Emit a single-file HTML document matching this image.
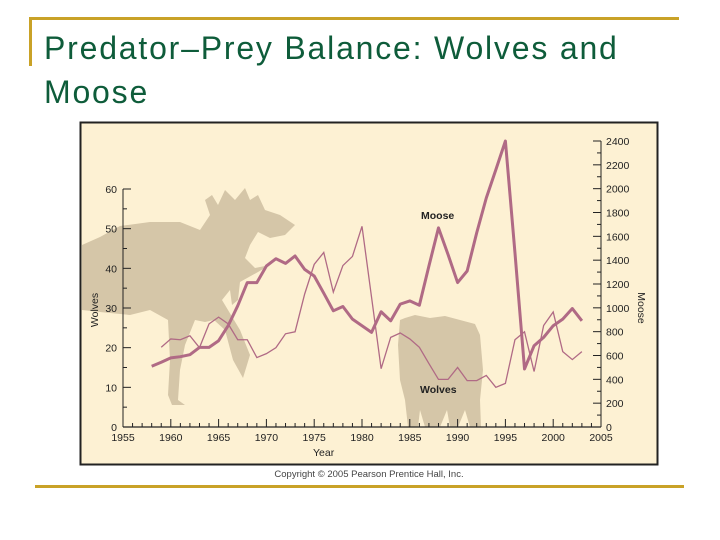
<!DOCTYPE html>
<html><head><meta charset="utf-8"><style>
body{margin:0;background:#fff;width:720px;height:540px;overflow:hidden;font-family:"Liberation Sans",sans-serif}
svg{position:absolute;left:0;top:0}
</style></head><body>
<svg width="720" height="540">
<rect x="29" y="17" width="650" height="3" fill="#c9a227"/>
<rect x="29" y="17" width="3" height="49" fill="#c9a227"/>
<rect x="35" y="485" width="649" height="3" fill="#c9a227"/>
<text x="44" y="59" font-size="32" letter-spacing="1.8" fill="#0e5c3a">Predator–Prey Balance: Wolves and</text>
<text x="44" y="103" font-size="32" letter-spacing="1.8" fill="#0e5c3a">Moose</text>
<rect x="80.5" y="122.5" width="577" height="342" fill="#fdf1d3" stroke="#222" stroke-width="2"/>
<g fill="#d5c6a8">
<path d="M82,245 L100,237 L120,226 L150,222 L180,222 L200,230 L210,215 L205,200 L212,195 L218,205 L225,190 L235,200 L245,188 L250,200 L258,195 L265,210 L280,215 L295,225 L285,235 L270,238 L258,232 L250,245 L245,258 L255,268 L270,265 L258,272 L240,282 L238,300 L232,305 L230,290 L222,300 L240,330 L250,355 L243,378 L233,360 L225,330 L214,320 L205,322 L195,320 L185,345 L180,370 L178,400 L185,405 L172,405 L168,395 L170,360 L168,320 L150,310 L130,315 L100,312 L82,310 Z"/>
</g>
<path d="M400,320 L405,318 L415,315 L430,318 L445,316 L460,320 L475,324 L480,335 L483,370 L480,400 L481,427 L470,427 L465,410 L458,427 L450,427 L447,410 L440,427 L425,427 L420,410 L418,427 L408,427 L405,400 L400,380 L398,345 Z" fill="#d5c6a8"/>
<g id="axes" font-size="10.5" fill="#222"></g>
<g id="series"></g>
<text x="421" y="219" font-size="10.5" font-weight="bold" fill="#222">Moose</text>
<text x="420" y="393" font-size="10.5" font-weight="bold" fill="#222">Wolves</text>
<text x="313" y="456" font-size="10.5" fill="#222">Year</text>
<text transform="translate(98,310) rotate(-90)" text-anchor="middle" font-size="10.5" fill="#222">Wolves</text>
<text transform="translate(638,308) rotate(90)" text-anchor="middle" font-size="10.5" fill="#222">Moose</text>
<text x="369" y="477" text-anchor="middle" font-size="9.5" fill="#444">Copyright © 2005 Pearson Prentice Hall, Inc.</text>
</svg>
<script>
const years=[1958,1959,1960,1961,1962,1963,1964,1965,1966,1967,1968,1969,1970,1971,1972,1973,1974,1975,1976,1977,1978,1979,1980,1981,1982,1983,1984,1985,1986,1987,1988,1989,1990,1991,1992,1993,1994,1995,1996,1997,1998,1999,2000,2001,2002,2003];
const moose=[510,543,580,590,607,668,668,724,850,1017,1212,1212,1351,1412,1373,1435,1323,1267,1123,975,1011,905,850,794,967,891,1031,1058,1022,1351,1671,1448,1212,1309,1630,1922,2159,2400,1462,487,682,752,850,905,994,891];
const wolfYears=[1959,1960,1961,1962,1963,1964,1965,1966,1967,1968,1969,1970,1971,1972,1973,1974,1975,1976,1977,1978,1979,1980,1981,1982,1983,1984,1985,1986,1987,1988,1989,1990,1991,1992,1993,1994,1995,1996,1997,1998,1999,2000,2001,2002,2003];
const wolves=[20.1,22.2,22,23,20,26,27.7,26,22,22,17.5,18.5,20,23.5,24,33.5,41,44,34,40.7,43,50.6,32.7,14.7,22.6,23.7,22.2,20.1,16,12,12,15,11.7,11.7,13,10,11,22,24,14,25.6,29,19,17,19];
const xTicks=[1955,1960,1965,1970,1975,1980,1985,1990,1995,2000,2005];
const wolfTicks=[0,10,20,30,40,50,60];
const mooseTicks=[0,200,400,600,800,1000,1200,1400,1600,1800,2000,2200,2400];
const X=y=>123+(y-1955)*(601-123)/50;
const YW=v=>427-v*(427-189)/60;
const YM=v=>427-v*(427-141)/2400;
const NS='http://www.w3.org/2000/svg';
const ax=document.getElementById('axes'),se=document.getElementById('series');
function mk(p,tag,a){const e=document.createElementNS(NS,tag);for(const k in a)e.setAttribute(k,a[k]);p.appendChild(e);return e;}
let l=mk(ax,'line',{x1:X(1955),x2:X(2005),y1:427,y2:427,stroke:'#222','stroke-width':1.2});


l=mk(ax,'line',{x1:123,x2:123,y1:YW(60),y2:427,stroke:'#222','stroke-width':1});


l=mk(ax,'line',{x1:601,x2:601,y1:YM(2400),y2:427,stroke:'#222','stroke-width':1});


for(let y=1955;y<=2005;y++){const t=mk(ax,'line',{x1:X(y),x2:X(y),y1:427,y2:427-(y%5?4:8),stroke:'#222','stroke-width':1});

}
xTicks.forEach(y=>{const t=mk(ax,'text',{x:X(y),y:441,'text-anchor':'middle'});t.textContent=y;

});
for(let v=0;v<=60;v+=5){const t=mk(ax,'line',{x1:123,x2:v%10?127:131,y1:YW(v),y2:YW(v),stroke:'#222','stroke-width':1});

}
wolfTicks.forEach(v=>{const t=mk(ax,'text',{x:117,y:YW(v)+4,'text-anchor':'end'});t.textContent=v;

});
for(let v=0;v<=2400;v+=100){const t=mk(ax,'line',{x1:v%200?597:593,x2:601,y1:YM(v),y2:YM(v),stroke:'#222','stroke-width':1});

}
mooseTicks.forEach(v=>{const t=mk(ax,'text',{x:606,y:YM(v)+4});t.textContent=v;

});
const wp=mk(se,'polyline',{points:wolfYears.map((y,i)=>X(y)+','+YW(wolves[i])).join(' '),fill:'none',stroke:'#b06a85','stroke-width':1.3});


const mp=mk(se,'polyline',{points:years.map((y,i)=>X(y)+','+YM(moose[i])).join(' '),fill:'none',stroke:'#b06a85','stroke-width':3,'stroke-linejoin':'round'});


</script>
</body></html>
